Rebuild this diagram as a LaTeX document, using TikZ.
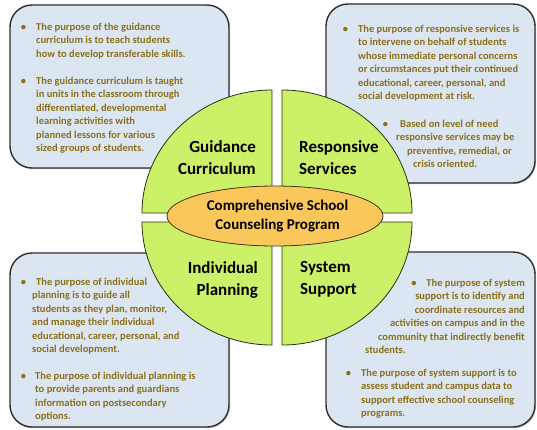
\documentclass[tikz,border=0pt]{standalone}
\usepackage{fontspec}
\setmainfont{Carlito}
\usetikzlibrary{shapes.geometric,shadows}

\definecolor{boxfill}{RGB}{220,230,242}
\definecolor{boxline}{RGB}{45,45,45}
\definecolor{infotxt}{RGB}{138,112,26}
\definecolor{quadfill}{RGB}{205,240,105}
\definecolor{quadline}{RGB}{40,50,20}
\definecolor{hubfill}{RGB}{250,200,90}
\definecolor{hubline}{RGB}{70,50,20}

\begin{document}
\begin{tikzpicture}[x=1pt,y=-1pt,
  infobox/.style = {draw=boxline, line width=1.4pt, fill=boxfill, rounded corners=22pt,
                    inner sep=0pt,
                    drop shadow={shadow xshift=1pt, shadow yshift=-1.2pt, opacity=.45}},
  quad/.style    = {draw=quadline, line width=.8pt, fill=quadfill},
  hub/.style     = {ellipse, draw=hubline, line width=.8pt, fill=hubfill,
                    minimum width=216pt, minimum height=60pt, inner sep=0pt,
                    align=center, font=\fontsize{15}{19}\selectfont\bfseries},
  quadlbl/.style = {inner sep=0pt, font=\fontsize{17}{22}\selectfont\bfseries},
  info/.style    = {inner sep=0pt, anchor=north west, align=left, text=infotxt,
                    font=\fontsize{10.5}{13.4}\selectfont\bfseries},
]
  \useasboundingbox (0,0) rectangle (537,429);

  % the four text panels
  \node[infobox, minimum width=219pt, minimum height=163pt] (gcbox) at (119.5,86.5) {};
  \node[infobox, minimum width=209pt, minimum height=179pt] (rsbox) at (430.5,93.5) {};
  \node[infobox, minimum width=219pt, minimum height=174pt] (ipbox) at (119.5,340) {};
  \node[infobox, minimum width=209pt, minimum height=175pt] (ssbox) at (430.5,339.5) {};

  \node[info] (gc1) at (36,23) {\llap{\textbullet\hspace{10pt}}The purpose of the guidance\\curriculum is to teach students\\how to develop transferable skills.};
  \node[info] (gc2) at (36,77) {\llap{\textbullet\hspace{10pt}}The guidance curriculum is taught\\in units in the classroom through\\differentiated, developmental\\learning activities with\\planned lessons for various\\sized groups of students.};

  \node[info] (rs1) at (358,25) {\llap{\textbullet\hspace{10pt}}The purpose of responsive services is\\to intervene on behalf of students\\whose immediate personal concerns\\or circumstances put their continued\\educational, career, personal, and\\social development at risk.};
  \node[info] (rs2) at (396,120) {\hspace*{4pt}\llap{\textbullet\hspace{12pt}}Based on level of need\\responsive services may be\\\hspace*{11pt}preventive, remedial, or\\\hspace*{17pt}crisis oriented.};

  \node[info] (ip1) at (32,278) {\hspace*{4pt}\llap{\textbullet\hspace{10pt}}The purpose of individual\\planning is to guide all\\students as they plan, monitor,\\and manage their individual\\educational, career, personal, and\\social development.};
  \node[info] (ip2) at (35,372) {\llap{\textbullet\hspace{9pt}}The purpose of individual planning is\\to provide parents and guardians\\information on postsecondary\\options.};

  \node[info, anchor=north east, align=right] (ss1) at (525,279) {\textbullet\hspace{10pt}The purpose of system\\support is to identify and\\coordinate resources and\\activities on campus and in the\\community that indirectly benefit};
  \node[info] (ss1end) at (365,346) {students.};
  \node[info] (ss2) at (361,369) {\llap{\textbullet\hspace{10pt}}The purpose of system support is to\\assess student and campus data to\\support effective school counseling\\programs.};

  % the split circle
  \draw[quad] (272,213) -- (142,213) arc[start angle=180, end angle=270, x radius=130, y radius=123] -- cycle;
  \draw[quad] (282,213) -- (282,90) arc[start angle=270, end angle=360, x radius=130, y radius=123] -- cycle;
  \draw[quad] (282,222) -- (412,222) arc[start angle=0, end angle=90, x radius=130, y radius=123] -- cycle;
  \draw[quad] (272,222) -- (272,345) arc[start angle=90, end angle=180, x radius=130, y radius=123] -- cycle;

  \node[quadlbl, anchor=north east, align=right] (gclbl) at (256,140) {Guidance\\Curriculum};
  \node[quadlbl, anchor=north west, align=left] (rslbl) at (299,140) {Responsive\\Services};
  \node[quadlbl, anchor=north east, align=right] (iplbl) at (258,261) {Individual\\Planning};
  \node[quadlbl, anchor=north west, align=left] (sslbl) at (300,261) {System\\Support};

  \node[hub] (csp) at (275,216) {\hspace*{5pt}Comprehensive School\\\hspace*{5pt}Counseling Program};
\end{tikzpicture}
\end{document}
